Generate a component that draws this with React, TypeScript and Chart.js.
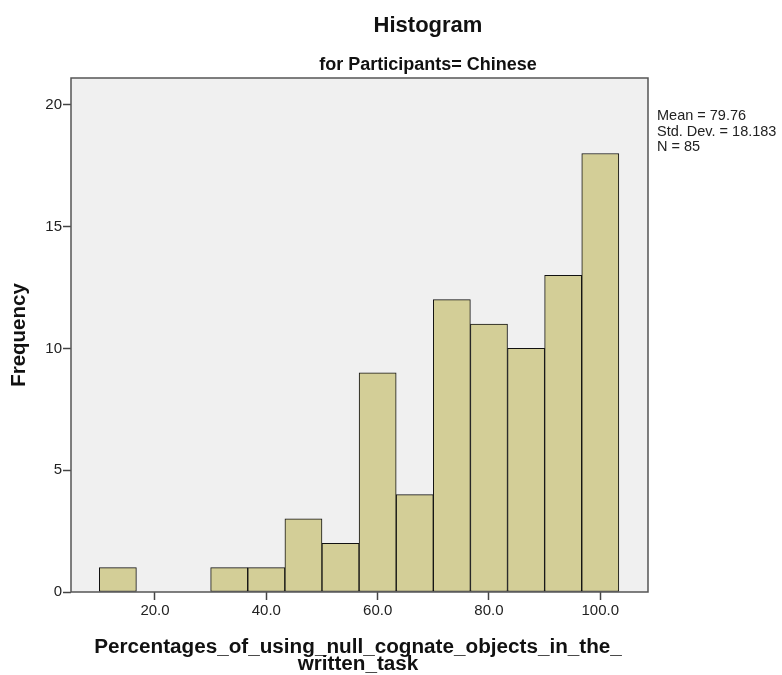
import React, { useEffect, useRef } from "react";
import { Chart, registerables } from "chart.js";

Chart.register(...registerables);

const binCenters = [13.33, 20, 26.67, 33.33, 40, 46.67, 53.33, 60, 66.67, 73.33, 80, 86.67, 93.33, 100];
const frequencies = [1, 0, 0, 1, 1, 3, 2, 9, 4, 12, 11, 10, 13, 18];
const xTicks = [20, 40, 60, 80, 100];
const yTicks = [0, 5, 10, 15, 20];
const statsLines = ["Mean = 79.76", "Std. Dev. = 18.183", "N = 85"];
const titleText = "Histogram";
const subtitleText = "for Participants= Chinese";
const xTitleLines = ["Percentages_of_using_null_cognate_objects_in_the_", "written_task"];
const yTitleText = "Frequency";

const FONT = "Arial, 'Liberation Sans', sans-serif";

const decorPlugin = {
  id: "decor",
  beforeDraw(chart: any) {
    const { ctx, chartArea } = chart;
    ctx.save();
    ctx.fillStyle = "#ffffff";
    ctx.fillRect(0, 0, chart.width, chart.height);
    ctx.fillStyle = "#f0f0f0";
    ctx.fillRect(chartArea.left, chartArea.top, chartArea.right - chartArea.left, chartArea.bottom - chartArea.top);
    ctx.restore();
  },
  afterDatasetsDraw(chart: any) {
    const { ctx, chartArea } = chart;
    ctx.save();
    ctx.strokeStyle = "#555555";
    ctx.lineWidth = 1.5;
    ctx.strokeRect(chartArea.left, chartArea.top, chartArea.right - chartArea.left, chartArea.bottom - chartArea.top);
    ctx.restore();
  },
  afterDraw(chart: any) {
    const { ctx } = chart;
    ctx.save();
    ctx.fillStyle = "#111111";
    ctx.textAlign = "center";
    ctx.textBaseline = "alphabetic";
    ctx.font = `bold 22px ${FONT}`;
    ctx.fillText(titleText, 428, 32);
    ctx.font = `bold 18px ${FONT}`;
    ctx.fillText(subtitleText, 428, 70);

    ctx.font = `bold 20.7px ${FONT}`;
    ctx.fillText(xTitleLines[0], 358, 653);
    ctx.fillText(xTitleLines[1], 358, 670);

    ctx.save();
    ctx.translate(25, 335);
    ctx.rotate(-Math.PI / 2);
    ctx.font = `bold 20.5px ${FONT}`;
    ctx.fillText(yTitleText, 0, 0);
    ctx.restore();

    ctx.textAlign = "left";
    ctx.font = `14.5px ${FONT}`;
    ctx.fillStyle = "#222222";
    statsLines.forEach((line, i) => {
      ctx.fillText(line, 657, 120 + i * 15.5);
    });
    ctx.restore();
  },
};

export default function App() {
  const canvasRef = useRef<HTMLCanvasElement | null>(null);

  useEffect(() => {
    if (!canvasRef.current) return;
    const chart = new Chart(canvasRef.current, {
      type: "bar",
      data: {
        datasets: [
          {
            data: binCenters.map((x, i) => ({ x, y: frequencies[i] })),
            backgroundColor: "#d3ce97",
            borderColor: "#111111",
            borderWidth: 1,
            borderSkipped: false,
            barPercentage: 1,
            categoryPercentage: 1,
          } as any,
        ],
      },
      options: {
        responsive: false,
        animation: false,
        layout: { padding: { top: 78, right: 134, left: 0, bottom: 0 } },
        plugins: {
          legend: { display: false },
          tooltip: { enabled: false },
          title: { display: false },
        },
        scales: {
          x: {
            type: "linear",
            offset: false,
            min: 4.91,
            max: 108.57,
            afterBuildTicks: (s: any) => {
              s.ticks = xTicks.map((v) => ({ value: v }));
            },
            afterFit: (s: any) => {
              s.height = 83;
            },
            grid: { offset: false, drawOnChartArea: false, drawTicks: true, tickLength: 8, tickColor: "#444444", tickWidth: 1.5 },
            border: { display: false },
            ticks: {
              callback: (v: any) => Number(v).toFixed(1),
              font: { family: FONT, size: 15 },
              color: "#222222",
              padding: 2,
              maxRotation: 0,
              autoSkip: false,
            },
          },
          y: {
            type: "linear",
            min: 0,
            max: 21.1,
            afterBuildTicks: (s: any) => {
              s.ticks = yTicks.map((v) => ({ value: v }));
            },
            afterFit: (s: any) => {
              s.width = 71;
            },
            grid: { drawOnChartArea: false, drawTicks: true, tickLength: 8, tickColor: "#444444", tickWidth: 1.5 },
            border: { display: false },
            ticks: {
              font: { family: FONT, size: 15 },
              color: "#222222",
              padding: 1,
              autoSkip: false,
            },
          },
        },
      } as any,
      plugins: [decorPlugin],
    });
    return () => chart.destroy();
  }, []);

  return (
    <div style={{ position: "absolute", left: 0, top: 0, width: 782, height: 675 }}>
      <canvas ref={canvasRef} width={782} height={675} style={{ width: 782, height: 675 }} />
    </div>
  );
}
